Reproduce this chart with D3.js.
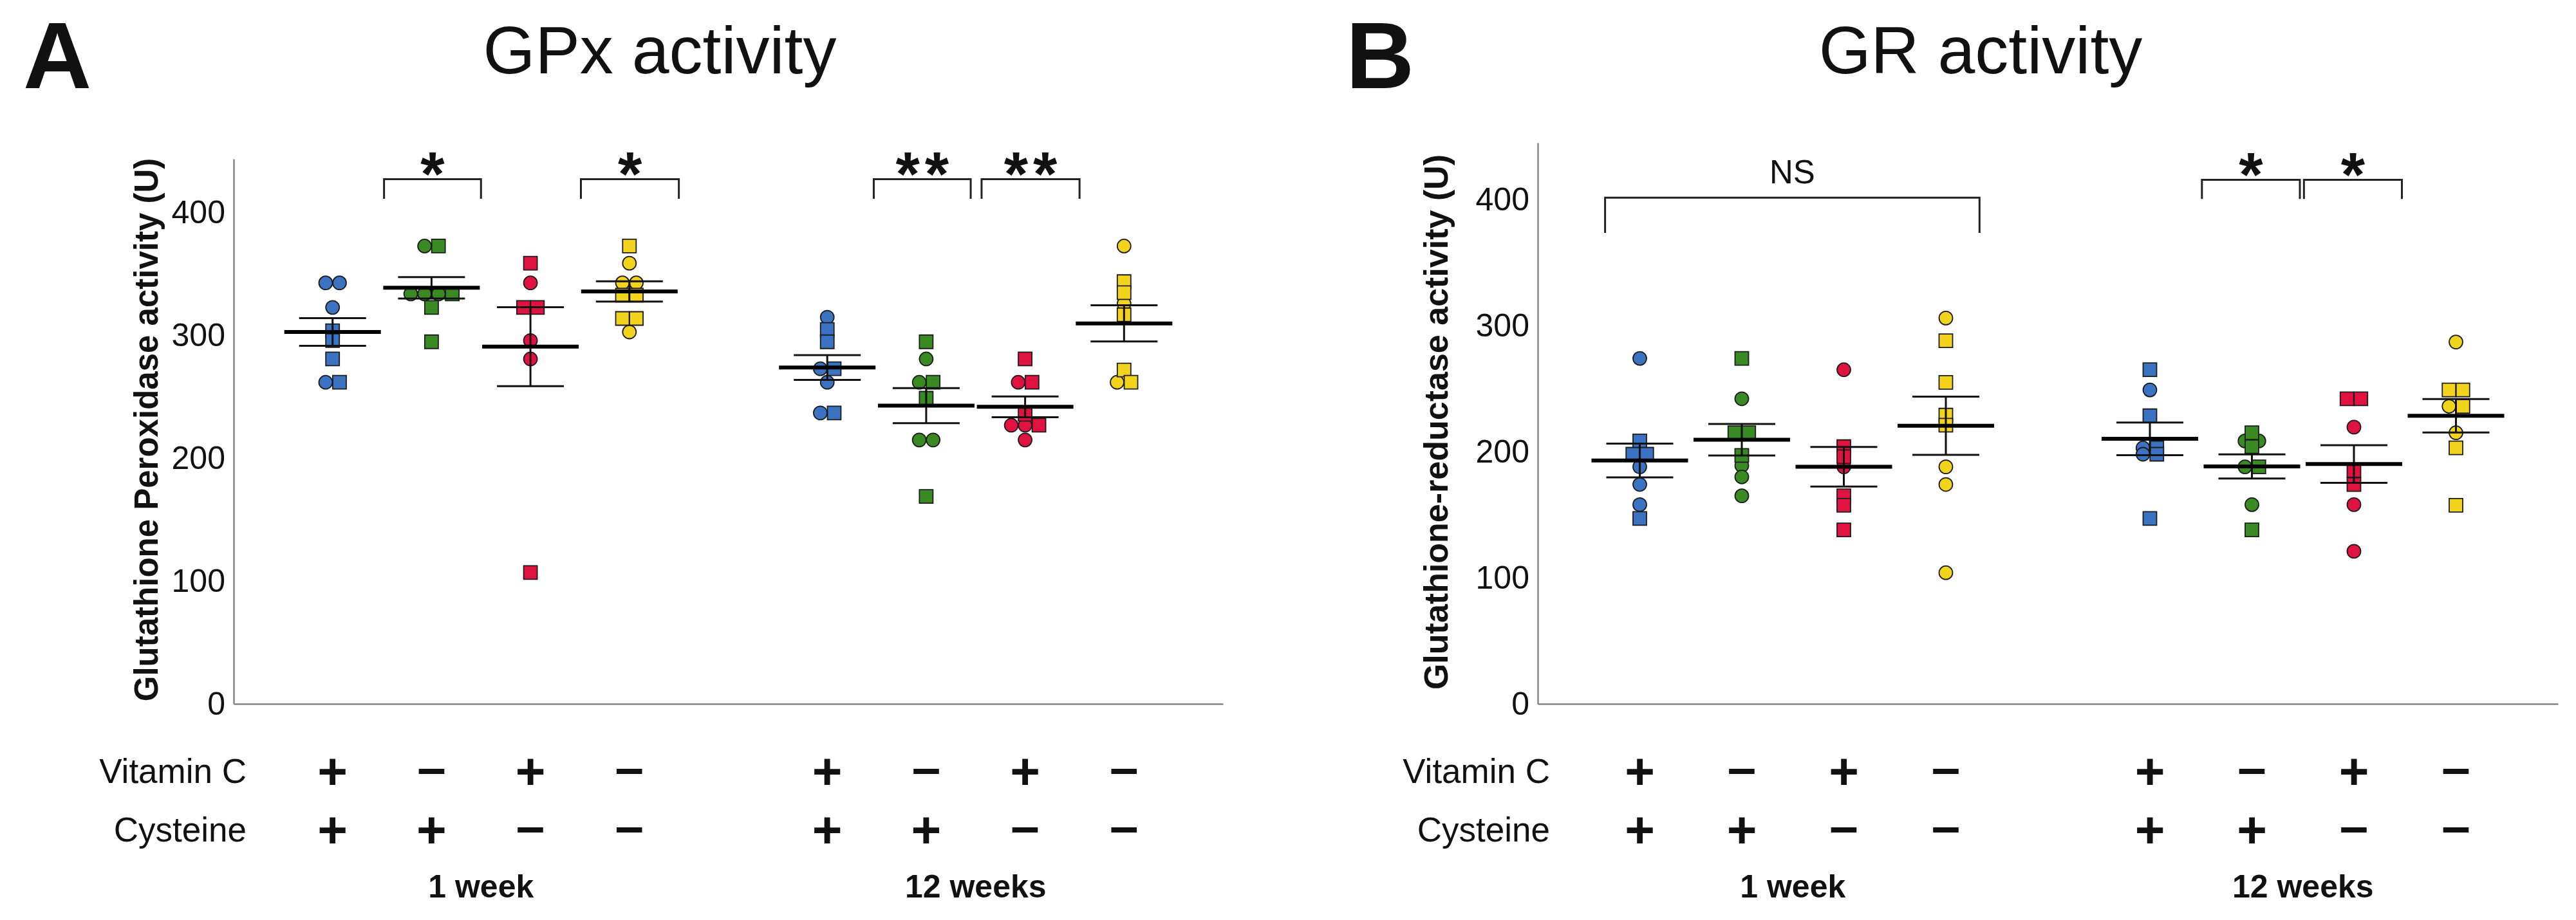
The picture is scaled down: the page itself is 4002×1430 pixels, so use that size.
<!DOCTYPE html>
<html>
<head>
<meta charset="utf-8">
<script src="https://cdn.jsdelivr.net/npm/d3@7"></script>
<style>
  html, body { margin: 0; padding: 0; background: #fff; }
  text { font-family: "Liberation Sans", Arial, Helvetica, sans-serif; fill: #111; }
</style>
</head>
<body>
<div id="chart"></div>
<script>
//////////////////////////////////////////////////////////////
///////////////////////// Data ///////////////////////////////
//////////////////////////////////////////////////////////////

const weeks = ["1 week", "12 weeks"];
const weekSlots = [2.5, 7.5];
const groupSlots = [1, 2, 3, 4, 6, 7, 8, 9];
const vitaminC = ["+", "–", "+", "–", "+", "–", "+", "–"];
const cysteine = ["+", "+", "–", "–", "+", "+", "–", "–"];
const yTicks = [0, 100, 200, 300, 400];

//GPx, order: 1 week (4 groups) then 12 weeks (4 groups)
const gpxCircles = [
  [343, 343, 323, 262],
  [373, 334, 334, 334],
  [343, 296, 281],
  [359, 343, 343, 303],
  [315, 273, 262, 237],
  [281, 262, 215, 215],
  [262, 227, 227, 215],
  [373, 326, 262],
];
const gpxSquares = [
  [304, 296, 281, 262],
  [373, 334, 323, 295],
  [359, 323, 323, 107],
  [373, 333, 333, 314, 314],
  [305, 295, 273, 237],
  [295, 262, 249, 169],
  [281, 262, 236, 227],
  [344, 335, 317, 272, 262],
];
const gpxMean = [303, 339, 291, 336, 274, 243, 242, 310];
const gpxSem = [11.3, 8.7, 32.2, 8.3, 10.1, 14.3, 8.5, 14.8];
//[from slot, to slot, top value, leg end value, label]
const gpxBrackets = [
  [1.52, 2.5, 427.5, 411.5, "*"],
  [3.51, 4.5, 427.5, 411.5, "*"],
  [6.47, 7.45, 427.5, 411.5, "**"],
  [7.56, 8.55, 427.5, 411.5, "**"],
];

//GR
const grCircles = [
  [274, 188, 174, 158],
  [242, 189, 180, 165],
  [265, 188],
  [306, 188, 174, 104],
  [249, 203, 198],
  [208.5, 208.5, 188, 158],
  [219.5, 158, 121],
  [287, 236, 215],
];
const grSquares = [
  [208.5, 198, 198, 147],
  [274, 215, 215, 197],
  [204, 196, 165, 157.5, 138],
  [288, 255, 229, 221],
  [265, 228.5, 203, 198, 147],
  [215, 204, 188, 138],
  [242, 242, 185, 174],
  [249, 249, 236, 203, 157.5],
];
const grMean = [193, 209.5, 188, 220.6, 210.2, 188.3, 190.2, 228.5];
const grSem = [13.4, 12.5, 15.7, 23.1, 13, 9.6, 14.9, 13.3];
const grBrackets = [
  [0.66, 4.33, 401.5, 373.5, "NS"],
  [6.51, 7.47, 415.7, 400.5, "*"],
  [7.51, 8.47, 415.7, 400.5, "*"],
];

//////////////////////////////////////////////////////////////
///////////////////////// Layout /////////////////////////////
//////////////////////////////////////////////////////////////

const colors = ["#3b72c2", "#3a8a24", "#e0123f", "#f3d41c"];
const step = 21.5; //horizontal shift for tied values

const panels = [
  {
    letter: "A", letterX: 36,
    title: "GPx activity", titleX: 1025,
    yLabel: "Glutathione Peroxidase activity (U)", yLabelX: 245, yLabelY: 668, yLabelSize: 51,
    circles: gpxCircles, squares: gpxSquares, mean: gpxMean, sem: gpxSem, brackets: gpxBrackets,
    left: 363, right: 1900, top: 247, yMax: 444, rowLabelX: 383,
  },
  {
    letter: "B", letterX: 2091,
    title: "GR activity", titleX: 3077,
    yLabel: "Glutathione-reductase activity (U)", yLabelX: 2249, yLabelY: 656, yLabelSize: 52,
    circles: grCircles, squares: grSquares, mean: grMean, sem: grSem, brackets: grBrackets,
    left: 2389, right: 3974, top: 222, yMax: 445, rowLabelX: 2408,
  },
];

const bottom = 1094;
const rowY = [1198, 1289];

const svg = d3
  .select("#chart")
  .append("svg")
  .attr("width", 4002)
  .attr("height", 1430);

panels.forEach((p) => {
  const x = d3.scaleLinear().domain([0, 10]).range([p.left, p.right]);
  const y = d3.scaleLinear().domain([0, p.yMax]).range([bottom, p.top]);
  const g = svg.append("g");

  //Letter and title
  g.append("text")
    .attr("x", p.letterX)
    .attr("y", 137)
    .style("font-size", "147px")
    .style("font-weight", "bold")
    .text(p.letter);

  g.append("text")
    .attr("x", p.titleX)
    .attr("y", 114)
    .attr("text-anchor", "middle")
    .style("font-size", "104px")
    .text(p.title);

  //Axes
  const yAxis = g
    .append("g")
    .attr("transform", `translate(${p.left},0)`)
    .call(d3.axisLeft(y).tickValues(yTicks).tickSize(0).tickSizeOuter(0).tickPadding(13));
  yAxis.select(".domain").attr("stroke", "#858585").attr("stroke-width", 2.5);
  yAxis.selectAll("text").style("font-size", "50px").attr("fill", "#111");

  const xAxis = g
    .append("g")
    .attr("transform", `translate(0,${bottom})`)
    .call(d3.axisBottom(x).tickValues([]).tickSizeOuter(0));
  xAxis.select(".domain").attr("stroke", "#858585").attr("stroke-width", 2.5);

  g.append("text")
    .attr("transform", `translate(${p.yLabelX},${p.yLabelY}) rotate(-90)`)
    .attr("text-anchor", "middle")
    .style("font-size", p.yLabelSize + "px")
    .style("font-weight", "bold")
    .text(p.yLabel);

  //Points, circles first so that ties put circles on the left
  const points = [];
  groupSlots.forEach((slot, i) => {
    const pts = p.circles[i]
      .map((v) => ({ v, shape: "circle" }))
      .concat(p.squares[i].map((v) => ({ v, shape: "square" })));
    d3.group(pts, (d) => d.v).forEach((list) => {
      list.forEach((d, k) => {
        d.offset = (k - (list.length - 1) / 2) * step;
      });
    });
    pts.forEach((d) => {
      d.slot = slot;
      d.color = colors[i % 4];
      points.push(d);
    });
  });

  const circleSym = d3.symbol().type(d3.symbolCircle).size(Math.PI * 10.5 * 10.5);
  const squareSym = d3.symbol().type(d3.symbolSquare).size(21 * 21);

  g.selectAll(".pt")
    .data(points.filter((d) => d.shape === "circle").concat(points.filter((d) => d.shape === "square")))
    .enter()
    .append("path")
    .attr("class", "pt")
    .attr("d", (d) => (d.shape === "circle" ? circleSym() : squareSym()))
    .attr("transform", (d) => `translate(${x(d.slot) + d.offset},${y(d.v)})`)
    .attr("fill", (d) => d.color)
    .attr("stroke", "#1c1c1c")
    .attr("stroke-width", 1.8);

  //Mean and SEM
  const stats = groupSlots.map((slot, i) => ({ slot, m: p.mean[i], s: p.sem[i] }));
  const eb = g.selectAll(".eb").data(stats).enter().append("g").attr("class", "eb");
  eb.append("line")
    .attr("x1", (d) => x(d.slot))
    .attr("x2", (d) => x(d.slot))
    .attr("y1", (d) => y(d.m + d.s))
    .attr("y2", (d) => y(d.m - d.s))
    .attr("stroke", "#111")
    .attr("stroke-width", 3);
  [1, -1].forEach((sign) => {
    eb.append("line")
      .attr("x1", (d) => x(d.slot) - 52)
      .attr("x2", (d) => x(d.slot) + 52)
      .attr("y1", (d) => y(d.m + sign * d.s))
      .attr("y2", (d) => y(d.m + sign * d.s))
      .attr("stroke", "#111")
      .attr("stroke-width", 3);
  });
  eb.append("line")
    .attr("x1", (d) => x(d.slot) - 75)
    .attr("x2", (d) => x(d.slot) + 75)
    .attr("y1", (d) => y(d.m))
    .attr("y2", (d) => y(d.m))
    .attr("stroke", "#000")
    .attr("stroke-width", 6);

  //Significance brackets
  const br = g.selectAll(".br").data(p.brackets).enter().append("g").attr("class", "br");
  br.append("path")
    .attr("d", (d) => {
      const path = d3.path();
      path.moveTo(x(d[0]), y(d[3]));
      path.lineTo(x(d[0]), y(d[2]));
      path.lineTo(x(d[1]), y(d[2]));
      path.lineTo(x(d[1]), y(d[3]));
      return path.toString();
    })
    .attr("fill", "none")
    .attr("stroke", "#222")
    .attr("stroke-width", 3);
  br.append("text")
    .attr("x", (d) => (x(d[0]) + x(d[1])) / 2 + (d[4] === "**" ? 4 : 0))
    .attr("y", (d) => (d[4] === "NS" ? y(d[2]) - 22 : y(d[2]) - 29 + 0.555 * 96))
    .attr("text-anchor", "middle")
    .style("font-size", (d) => (d[4] === "NS" ? "51px" : "96px"))
    .style("font-weight", (d) => (d[4] === "NS" ? "normal" : "bold"))
    .style("letter-spacing", (d) => (d[4] === "**" ? "8px" : "0px"))
    .text((d) => d[4]);

  //Treatment rows
  [["Vitamin C", vitaminC], ["Cysteine", cysteine]].forEach(([label, signs], r) => {
    g.append("text")
      .attr("x", p.rowLabelX)
      .attr("y", rowY[r])
      .attr("dominant-baseline", "central")
      .attr("text-anchor", "end")
      .style("font-size", "53px")
      .text(label);
    g.selectAll(".sign" + r)
      .data(signs)
      .enter()
      .append("text")
      .attr("x", (d, i) => x(groupSlots[i]))
      .attr("y", rowY[r])
      .attr("dy", (d) => (d === "+" ? "0em" : "-0.075em"))
      .attr("dominant-baseline", "central")
      .attr("text-anchor", "middle")
      .style("font-size", "80px")
      .style("font-weight", "bold")
      .text((d) => d);
  });

  g.selectAll(".week")
    .data(weeks)
    .enter()
    .append("text")
    .attr("x", (d, i) => x(weekSlots[i]))
    .attr("y", 1395)
    .attr("text-anchor", "middle")
    .style("font-size", "50px")
    .style("font-weight", "bold")
    .text((d) => d);
});
</script>
</body>
</html>
